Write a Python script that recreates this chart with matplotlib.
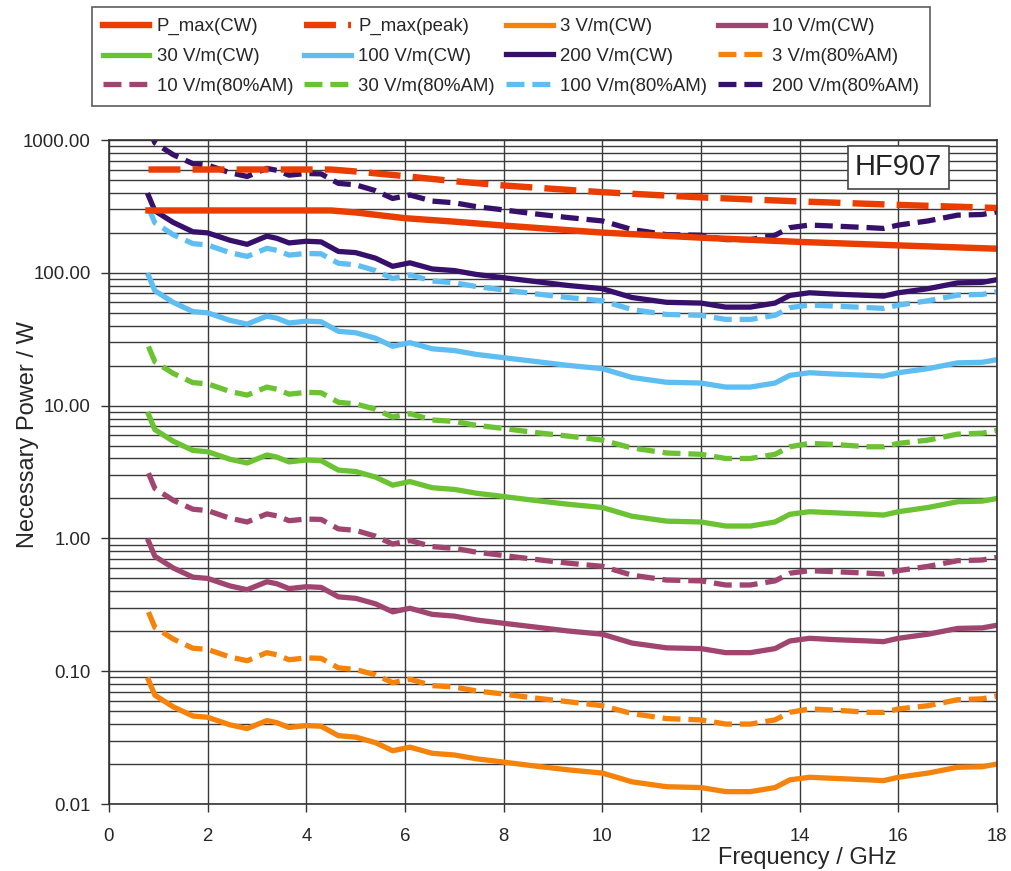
import matplotlib
matplotlib.use("Agg")
import matplotlib.pyplot as plt
from matplotlib.ticker import LogLocator, FixedLocator, FormatStrFormatter, NullFormatter

plt.rcParams['font.family'] = ['Liberation Sans', 'DejaVu Sans']

# frequency points (GHz) of the measured curves
freq = [0.8, 0.93, 1.3, 1.7, 2.0, 2.45, 2.8, 3.2, 3.4, 3.65, 4.0, 4.3, 4.65, 5.0,
        5.4, 5.75, 6.1, 6.55, 7.0, 7.45, 7.9, 8.6, 9.3, 10.0, 10.6, 11.3, 12.0,
        12.5, 13.0, 13.5, 13.8, 14.2, 14.7, 15.4, 15.7, 16.0, 16.6, 17.2, 17.7, 18.0]

p3_cw = [0.086, 0.066, 0.054, 0.046, 0.045, 0.0395, 0.037, 0.0425, 0.041, 0.0377,
         0.039, 0.0385, 0.0327, 0.0319, 0.029, 0.0252, 0.0268, 0.0241, 0.0234, 0.0219,
         0.0209, 0.0194, 0.0181, 0.0171, 0.0147, 0.0135, 0.0133, 0.0124, 0.0124, 0.0133,
         0.0152, 0.0159, 0.0156, 0.0152, 0.0150, 0.0159, 0.0171, 0.0189, 0.0191, 0.020]
p10_cw = [0.955, 0.733, 0.600, 0.511, 0.500, 0.439, 0.411, 0.472, 0.456, 0.419,
          0.433, 0.428, 0.363, 0.354, 0.322, 0.280, 0.298, 0.268, 0.260, 0.243,
          0.232, 0.216, 0.201, 0.190, 0.163, 0.150, 0.148, 0.138, 0.138, 0.148,
          0.169, 0.177, 0.173, 0.169, 0.167, 0.177, 0.190, 0.210, 0.212, 0.222]
p30_cw = [8.6, 6.6, 5.4, 4.6, 4.5, 3.95, 3.7, 4.25, 4.1, 3.77,
          3.9, 3.85, 3.27, 3.19, 2.9, 2.52, 2.68, 2.41, 2.34, 2.19,
          2.09, 1.94, 1.81, 1.71, 1.47, 1.35, 1.33, 1.24, 1.24, 1.33,
          1.52, 1.59, 1.56, 1.52, 1.50, 1.59, 1.71, 1.89, 1.91, 2.0]
p100_cw = [95.5, 73.3, 60.0, 51.1, 50.0, 43.9, 41.1, 47.2, 45.6, 41.9,
           43.3, 42.8, 36.3, 35.4, 32.2, 28.0, 29.8, 26.8, 26.0, 24.3,
           23.2, 21.6, 20.1, 19.0, 16.3, 15.0, 14.8, 13.8, 13.8, 14.8,
           16.9, 17.7, 17.3, 16.9, 16.7, 17.7, 19.0, 21.0, 21.2, 22.2]
p200_cw = [382, 293, 240, 204, 200, 176, 164, 189, 182, 168,
           173, 171, 145, 142, 129, 112, 119, 107, 104, 97.2,
           92.8, 86.4, 80.4, 76.0, 65.2, 60.0, 59.2, 55.2, 55.2, 59.2,
           67.6, 70.8, 69.2, 67.6, 66.8, 70.8, 76.0, 84.0, 84.8, 88.8]

p3_am = [0.279, 0.214, 0.175, 0.149, 0.146, 0.128, 0.120, 0.138, 0.133, 0.122,
         0.126, 0.125, 0.106, 0.103, 0.094, 0.082, 0.087, 0.078, 0.076, 0.071,
         0.068, 0.063, 0.059, 0.055, 0.048, 0.044, 0.043, 0.040, 0.040, 0.043,
         0.049, 0.052, 0.051, 0.049, 0.049, 0.052, 0.055, 0.061, 0.062, 0.065]
p10_am = [3.10, 2.38, 1.94, 1.66, 1.62, 1.42, 1.33, 1.53, 1.48, 1.36,
          1.40, 1.39, 1.18, 1.15, 1.04, 0.907, 0.965, 0.868, 0.842, 0.788,
          0.752, 0.698, 0.652, 0.616, 0.529, 0.486, 0.479, 0.446, 0.446, 0.479,
          0.547, 0.572, 0.562, 0.547, 0.540, 0.572, 0.616, 0.680, 0.688, 0.720]
p30_am = [27.9, 21.4, 17.5, 14.9, 14.6, 12.8, 12.0, 13.8, 13.3, 12.2,
          12.6, 12.5, 10.6, 10.3, 9.4, 8.2, 8.7, 7.8, 7.6, 7.1,
          6.8, 6.3, 5.9, 5.5, 4.8, 4.4, 4.3, 4.0, 4.0, 4.3,
          4.9, 5.2, 5.1, 4.9, 4.9, 5.2, 5.5, 6.1, 6.2, 6.5]
p100_am = [310, 238, 194, 166, 162, 142, 133, 153, 148, 136,
           140, 139, 118, 115, 104, 90.7, 96.5, 86.8, 84.2, 78.8,
           75.2, 69.8, 65.2, 61.6, 52.9, 48.6, 47.9, 44.6, 44.6, 47.9,
           54.7, 57.2, 56.2, 54.7, 54.0, 57.2, 61.6, 68.0, 68.8, 72.0]
p200_am = [1240, 952, 776, 664, 648, 568, 532, 612, 592, 544,
           560, 556, 472, 460, 416, 363, 386, 347, 337, 315,
           301, 279, 261, 246, 212, 194, 192, 178, 178, 192,
           219, 229, 225, 219, 216, 229, 246, 272, 275, 288]

# amplifier limits
freq_max = [0.8, 4.5, 5.0, 6.0, 7.0, 8.0, 10.0, 12.0, 14.0, 16.0, 18.0]
pmax_cw = [295, 295, 285, 258, 243, 227, 201, 184, 171, 161, 152]
pmax_peak = [600, 600, 580, 535, 490, 455, 405, 370, 345, 325, 308]

c_pmax = '#EA3D00'
c3 = '#F5820A'
c10 = '#A0456F'
c30 = '#6BC232'
c100 = '#5EBEF2'
c200 = '#36106A'

fig = plt.figure(figsize=(10.12, 8.71), dpi=100)
ax = fig.add_axes([0.1077, 0.0769, 0.8775, 0.7623])

lw = 3.8
dash = (3.4, 1.5)
h = {}
h['p3_cw'], = ax.plot(freq, p3_cw, color=c3, lw=lw, label='3 V/m(CW)')
h['p10_cw'], = ax.plot(freq, p10_cw, color=c10, lw=lw, label='10 V/m(CW)')
h['p30_cw'], = ax.plot(freq, p30_cw, color=c30, lw=lw, label='30 V/m(CW)')
h['p100_cw'], = ax.plot(freq, p100_cw, color=c100, lw=lw, label='100 V/m(CW)')
h['p200_cw'], = ax.plot(freq, p200_cw, color=c200, lw=lw, label='200 V/m(CW)')
h['p3_am'], = ax.plot(freq, p3_am, color=c3, lw=lw, dashes=dash, label='3 V/m(80%AM)')
h['p10_am'], = ax.plot(freq, p10_am, color=c10, lw=lw, dashes=dash, label='10 V/m(80%AM)')
h['p30_am'], = ax.plot(freq, p30_am, color=c30, lw=lw, dashes=dash, label='30 V/m(80%AM)')
h['p100_am'], = ax.plot(freq, p100_am, color=c100, lw=lw, dashes=dash, label='100 V/m(80%AM)')
h['p200_am'], = ax.plot(freq, p200_am, color=c200, lw=lw, dashes=dash, label='200 V/m(80%AM)')
h['pmax_cw'], = ax.plot(freq_max, pmax_cw, color=c_pmax, lw=4.6, label='P_max(CW)')
h['pmax_peak'], = ax.plot(freq_max, pmax_peak, color=c_pmax, lw=4.6, dashes=(5, 1.9),
                          label='P_max(peak)')

ax.set_yscale('log')
ax.set_xlim(0, 18)
ax.set_ylim(0.01, 1000)
ax.xaxis.set_major_locator(FixedLocator(range(0, 19, 2)))
ax.yaxis.set_major_locator(LogLocator(base=10, numticks=10))
ax.yaxis.set_minor_locator(LogLocator(base=10, subs=range(2, 10), numticks=20))
ax.yaxis.set_major_formatter(FormatStrFormatter('%.2f'))
ax.yaxis.set_minor_formatter(NullFormatter())

ax.grid(True, which='both', axis='y', color='#3a3a3a', lw=1.0)
ax.grid(True, which='major', axis='x', color='#3a3a3a', lw=1.0)
ax.set_axisbelow(True)
ax.tick_params(axis='both', which='major', labelsize=13.4, labelcolor='#262626',
               length=6, width=1, color='#333333')
ax.tick_params(axis='y', which='major', pad=7)
ax.tick_params(axis='x', which='major', pad=11)
ax.tick_params(axis='y', which='minor', length=0)
for s in ax.spines.values():
    s.set_color('#333333')
    s.set_linewidth(1.2)

ax.set_xlabel('Frequency / GHz', fontsize=17, color='#262626', ha='right')
ax.xaxis.set_label_coords(0.887, -0.064)
ax.set_ylabel('Necessary Power / W', fontsize=17, color='#262626')
ax.yaxis.set_label_coords(-0.079, 0.556)

ax.text(0.889, 0.959, 'HF907', transform=ax.transAxes, fontsize=21, color='#222222',
        ha='center', va='center',
        bbox=dict(boxstyle='square,pad=0.25', facecolor='white', edgecolor='#444444', lw=1.2))

# legend rows as in the original, matplotlib fills columns first
order = ['pmax_cw', 'pmax_peak', 'p3_cw', 'p10_cw',
         'p30_cw', 'p100_cw', 'p200_cw', 'p3_am',
         'p10_am', 'p30_am', 'p100_am', 'p200_am']
col_order = [order[r * 4 + c] for c in range(4) for r in range(3)]
handles = [h[k] for k in col_order]
leg = fig.legend(handles, [hh.get_label() for hh in handles], loc='upper left',
                 bbox_to_anchor=(0.0905, 0.992), borderaxespad=0, ncol=4, fontsize=13.4,
                 frameon=True, fancybox=False, edgecolor='#333333', handlelength=2.5,
                 handletextpad=0.4, columnspacing=0.6, labelspacing=0.68, borderpad=0.6)
leg.get_frame().set_linewidth(1.2)
for t in leg.get_texts():
    t.set_color('#262626')

fig.savefig('out.png', dpi=100)
